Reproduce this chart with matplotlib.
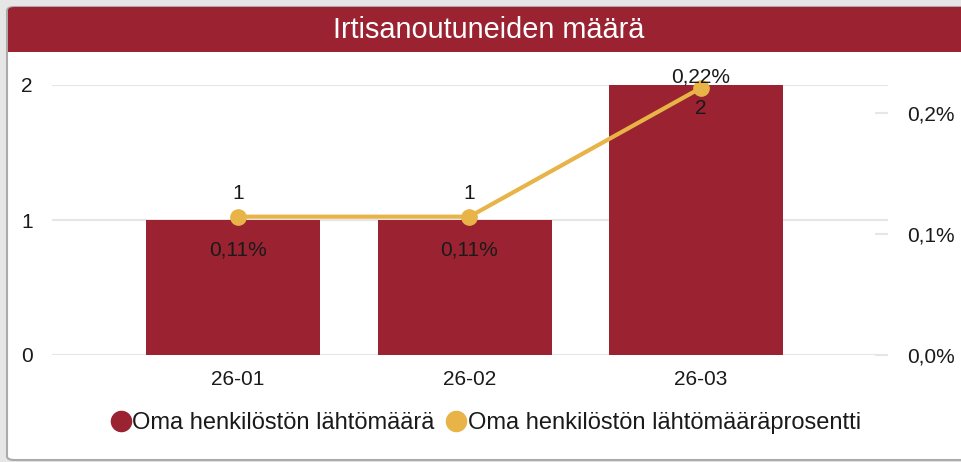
import matplotlib
matplotlib.use("Agg")
import matplotlib.pyplot as plt
from matplotlib.patches import FancyBboxPatch, Rectangle
from matplotlib.lines import Line2D
from matplotlib.ticker import FixedLocator, FuncFormatter

# ---- data ----
categories = ["26-01", "26-02", "26-03"]
counts = [1, 1, 2]
percents = [0.1143, 0.1143, 0.2207]
count_label_pos = ["above", "above", "inside"]
pct_label_pos = ["below", "below", "above"]
left_ticks = [0, 1, 2]
right_ticks = [0.0, 0.1, 0.2]
title = "Irtisanoutuneiden määrä"
series_names = ["Oma henkilöstön lähtömäärä", "Oma henkilöstön lähtömääräprosentti"]

BAR = "#9B2230"
LINE = "#E8B447"
GRID = "#E6E6E6"
TXT = "#1a1a1a"

plt.rcParams["font.family"] = ["Liberation Sans", "DejaVu Sans"]

W, H = 962, 462
fig = plt.figure(figsize=(W / 100, H / 100), dpi=100)
fig.patch.set_facecolor("#E6E6E6")

def fx(px):
    return px / W

def fy(py):
    return 1 - py / H

# card
card = FancyBboxPatch((fx(7), fy(460)), fx(1000), (460 - 7) / H,
                      boxstyle="round,pad=0,rounding_size=0.008",
                      transform=fig.transFigure, facecolor="white",
                      edgecolor="#AAAAAA", linewidth=1.5, zorder=0)
fig.add_artist(card)
band = FancyBboxPatch((fx(8), fy(52)), fx(1000), (52 - 7) / H,
                      boxstyle="round,pad=0,rounding_size=0.007",
                      transform=fig.transFigure, facecolor=BAR, edgecolor="none", zorder=1)
fig.add_artist(band)
fig.add_artist(Rectangle((fx(8), fy(52)), fx(1000), 10 / H, transform=fig.transFigure,
                         facecolor=BAR, edgecolor="none", zorder=1))
fig.text(fx(489), fy(30), title, color="white", fontsize=20.8,
         ha="center", va="center", zorder=2)

# axes
ax = fig.add_axes([fx(52), fy(355), fx(888 - 52), (355 - 85) / H])
ax.set_facecolor("none")
x = list(range(len(categories)))
bar_shift = -0.02
ax.bar([xi + bar_shift for xi in x], counts, width=0.753, color=BAR, zorder=2)
ax.set_xlim(-0.803, 2.808)
ax.set_ylim(0, 2)
ax.yaxis.set_major_locator(FixedLocator(left_ticks))
ax.yaxis.set_major_formatter(FuncFormatter(lambda v, p: f"{int(v)}"))
ax.grid(axis="y", color=GRID, linewidth=1.5, zorder=0)
ax.set_xticks(x)
ax.set_xticklabels(categories)
for s in ax.spines.values():
    s.set_visible(False)
ax.tick_params(axis="x", length=0, pad=11, labelsize=15, labelcolor=TXT)
ax.tick_params(axis="y", length=0, pad=14, labelsize=15, labelcolor=TXT)

ax2 = ax.twinx()
ax2.set_ylim(0, 0.2231)
ax2.yaxis.set_major_locator(FixedLocator(right_ticks))
ax2.yaxis.set_major_formatter(FuncFormatter(lambda v, p: f"{v:.1f}".replace(".", ",") + "%"))
for s in ax2.spines.values():
    s.set_visible(False)
ax2.tick_params(axis="y", direction="in", length=9.5, width=1.5, color=GRID,
                pad=14, labelsize=15, labelcolor=TXT)
ax2.plot(x, percents, color=LINE, linewidth=3, marker="o", markersize=11,
         zorder=3, clip_on=False)

# labels
for xi, c, pos in zip(x, counts, count_label_pos):
    dy = 19 if pos == "above" else -17
    ax.annotate(f"{c}", (xi, c), xytext=(0, dy), textcoords="offset points",
                ha="center", va="center", fontsize=15, color=TXT, zorder=5)
for xi, p, pos in zip(x, percents, pct_label_pos):
    lab = f"{p:.2f}".replace(".", ",") + "%"
    dy = -24 if pos == "below" else 8
    ax2.annotate(lab, (xi, p), xytext=(0, dy), textcoords="offset points",
                 ha="center", va="center", fontsize=15, color=TXT, zorder=5)

handles = [Line2D([], [], linestyle="none", marker="o", markersize=14.5, color=BAR),
           Line2D([], [], linestyle="none", marker="o", markersize=14.5, color=LINE)]
fig.legend(handles, series_names, loc="center", bbox_to_anchor=(fx(486), fy(423)),
           ncol=2, frameon=False, fontsize=17, handlelength=0.8, handletextpad=0.1,
           columnspacing=0.5, borderaxespad=0, labelcolor=TXT)

fig.savefig("out.png", dpi=100, facecolor=fig.get_facecolor())
